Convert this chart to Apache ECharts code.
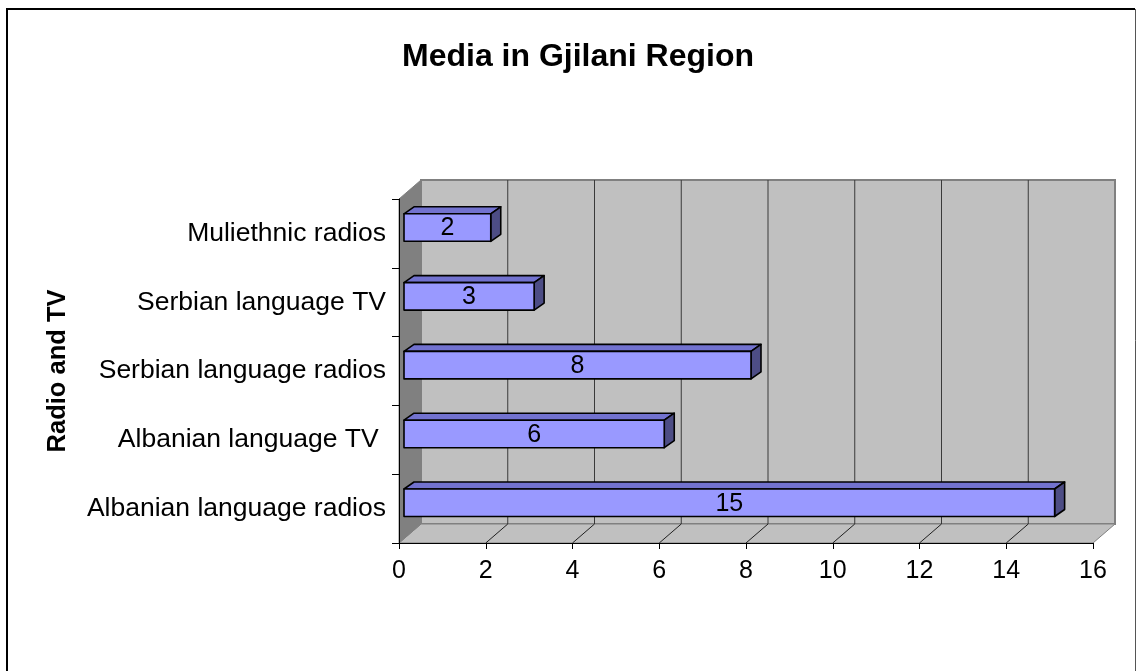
<!DOCTYPE html>
<html>
<head>
<meta charset="utf-8">
<script src="https://cdn.jsdelivr.net/npm/echarts@6/dist/echarts.min.js"></script>
<style>
html, body { margin: 0; padding: 0; background: #fff; }
#chart { width: 1136px; height: 671px; }
</style>
</head>
<body>
<div id="chart"></div>
<script>
// data, bottom to top as in the picture
const categories = [
	'Albanian language radios',
	'Albanian language TV ',
	'Serbian language radios',
	'Serbian language TV',
	'Muliethnic radios',
];
const counts = [15, 6, 8, 3, 2];
const xTicks = [0, 2, 4, 6, 8, 10, 12, 14, 16];

const FONT = '"Liberation Sans", Arial, sans-serif';

// 3d look: depth of the walls and of the bars
const WALL_DX = 22, WALL_DY = -19;
const BAR_SHIFT = 5, BAR_DX = 10, BAR_DY = -7;

const renderWalls = (params, api) => {
	const cs = params.coordSys;
	const x0 = cs.x, x1 = cs.x + cs.width;
	const y0 = cs.y, y1 = cs.y + cs.height;
	const children = [
		{
			type: 'rect',
			shape: { x: x0 + WALL_DX, y: y0 + WALL_DY, width: cs.width, height: cs.height },
			style: { fill: '#c0c0c0', stroke: '#808080', lineWidth: 2 },
		},
		{
			type: 'polygon',
			shape: { points: [[x0, y1], [x0 + WALL_DX, y1 + WALL_DY], [x1 + WALL_DX, y1 + WALL_DY], [x1, y1]] },
			style: { fill: '#c0c0c0', stroke: '#808080', lineWidth: 1 },
		},
		{
			type: 'polygon',
			shape: { points: [[x0, y0], [x0 + WALL_DX, y0 + WALL_DY], [x0 + WALL_DX, y1 + WALL_DY], [x0, y1]] },
			style: { fill: '#808080', stroke: '#808080', lineWidth: 1 },
		},
	];
	xTicks.slice(1, -1).forEach((v) => {
		const x = api.coord([v, 0])[0];
		// back wall gridline
		children.push({
			type: 'line',
			shape: { x1: x + WALL_DX, y1: y0 + WALL_DY, x2: x + WALL_DX, y2: y1 + WALL_DY },
			style: { stroke: '#3a3a3a', lineWidth: 1 },
		});
		// floor gridline
		children.push({
			type: 'line',
			shape: { x1: x, y1: y1, x2: x + WALL_DX, y2: y1 + WALL_DY },
			style: { stroke: '#202020', lineWidth: 1 },
		});
	});
	return { type: 'group', children };
};

const renderBar = (params, api) => {
	const v = api.value(0);
	const idx = api.value(1);
	const end = api.coord([v, idx]);
	const start = api.coord([0, idx]);
	const band = api.size([0, 1])[1];
	const h = band * 0.4;
	const cy = end[1] - band * 0.085;
	const xl = start[0] + BAR_SHIFT, xr = end[0] + BAR_SHIFT;
	const top = cy - h / 2, bot = cy + h / 2;
	const edge = { stroke: '#000', lineWidth: 1.6, lineJoin: 'round' };
	return {
		type: 'group',
		children: [
			{
				type: 'polygon',
				shape: { points: [[xl, top], [xl + BAR_DX, top + BAR_DY], [xr + BAR_DX, top + BAR_DY], [xr, top]] },
				style: Object.assign({ fill: '#7272cf' }, edge),
			},
			{
				type: 'polygon',
				shape: { points: [[xr, top], [xr + BAR_DX, top + BAR_DY], [xr + BAR_DX, bot + BAR_DY], [xr, bot]] },
				style: Object.assign({ fill: '#4d4d85' }, edge),
			},
			{
				type: 'rect',
				shape: { x: xl, y: top, width: xr - xl, height: h },
				style: Object.assign({ fill: '#9999ff' }, edge),
			},
			{
				type: 'text',
				style: {
					text: String(v),
					x: (xl + xr) / 2,
					y: cy + 1,
					align: 'center',
					verticalAlign: 'middle',
					fill: '#000',
					fontSize: 25,
					fontFamily: FONT,
				},
			},
		],
	};
};

const chart = echarts.init(document.getElementById('chart'));

chart.setOption({
	animation: false,
	backgroundColor: '#fff',
	title: {
		text: 'Media in Gjilani Region',
		left: 397,
		top: 36,
		textStyle: { fontSize: 32, fontWeight: 'bold', color: '#000', fontFamily: FONT },
	},
	graphic: [
		{
			type: 'polyline',
			shape: { points: [[7, 700], [7, 9], [1135, 9]] },
			style: { stroke: '#000', lineWidth: 2, fill: null },
		},
		{
			type: 'line',
			shape: { x1: 1135.5, y1: 9, x2: 1135.5, y2: 700 },
			style: { stroke: '#555', lineWidth: 1 },
		},
	],
	grid: { left: 399, right: 43, top: 199, bottom: 128, containLabel: false },
	xAxis: {
		type: 'value',
		min: xTicks[0],
		max: xTicks[xTicks.length - 1],
		interval: xTicks[1] - xTicks[0],
		z: 10,
		axisLine: { show: true, lineStyle: { color: '#000', width: 1 } },
		axisTick: { show: true, length: 6, lineStyle: { color: '#000' } },
		axisLabel: { fontSize: 25, color: '#000', fontFamily: FONT, margin: 16 },
		splitLine: { show: false },
	},
	yAxis: {
		type: 'category',
		data: categories,
		z: 10,
		axisLine: { show: true, lineStyle: { color: '#000', width: 1 } },
		axisTick: { show: true, length: 7, lineStyle: { color: '#000' } },
		axisLabel: { fontSize: 26.5, color: '#000', fontFamily: FONT, margin: 13 },
		name: 'Radio and TV',
		nameLocation: 'middle',
		nameRotate: 90,
		nameGap: 328,
		nameTextStyle: { fontSize: 25.5, fontWeight: 'bold', color: '#000', fontFamily: FONT },
	},
	series: [
		{
			type: 'custom',
			coordinateSystem: 'cartesian2d',
			renderItem: renderWalls,
			data: [[0, 0]],
			silent: true,
			z: 1,
		},
		{
			type: 'custom',
			coordinateSystem: 'cartesian2d',
			renderItem: renderBar,
			encode: { x: 0, y: 1 },
			data: counts.map((c, i) => [c, i]),
			z: 3,
		},
	],
});

window.addEventListener('resize', () => chart.resize());
</script>
</body>
</html>
